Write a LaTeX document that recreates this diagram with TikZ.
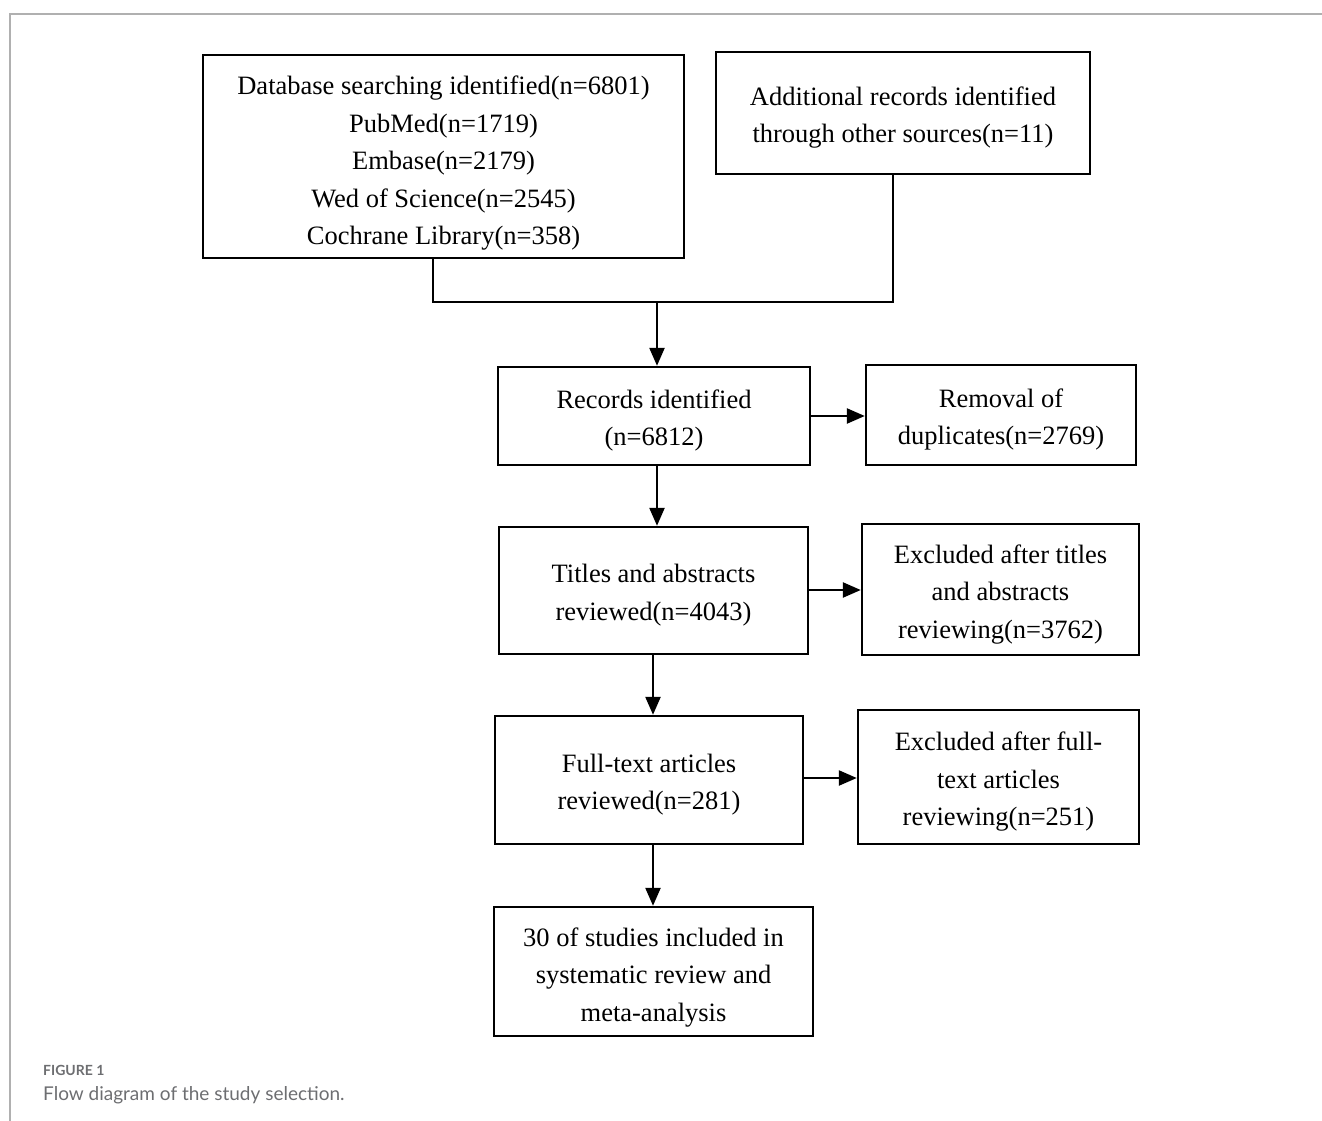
\documentclass[tikz,border=0pt]{standalone}
\usepackage{fontspec}
\setmainfont{Liberation Serif}
\newfontfamily\capfont{Lato}
\usetikzlibrary{arrows.meta}
\definecolor{capgray}{HTML}{6D6E71}
\definecolor{framegray}{HTML}{B0B0B0}
\newcommand\topstrut[1][28pt]{\rule{0pt}{#1}}
\begin{document}
\begin{tikzpicture}[x=1pt,y=-1pt,
  box/.style={draw=black,line width=2.4pt,align=center,inner sep=0pt,
    font=\fontsize{26.5}{37.5}\selectfont},
  arr/.style={line width=2.4pt,-{Triangle[length=18pt,width=15pt]}},
  ln/.style={line width=2.4pt}]
\useasboundingbox (0,0) rectangle (1322,1121);
\draw[framegray,line width=1.5pt] (10,1121) -- (10,14) -- (1322,14);
\node[box,minimum width=481pt,minimum height=203pt] (db) at (443.5,156.5)
  {\topstrut[32pt]Database searching identified(n=6801)\\PubMed(n=1719)\\Embase(n=2179)\\Wed of Science(n=2545)\\Cochrane Library(n=358)};
\node[box,minimum width=374pt,minimum height=122pt] (add) at (903,113)
  {\topstrut Additional records identified\\through other sources(n=11)};
\node[box,minimum width=312pt,minimum height=98pt] (rec) at (654,416)
  {\topstrut Records identified\\(n=6812)};
\node[box,minimum width=270pt,minimum height=100pt] (rem) at (1001,415)
  {\topstrut Removal of\\duplicates(n=2769)};
\node[box,minimum width=309pt,minimum height=127pt] (tit) at (653.5,590.5)
  {\topstrut Titles and abstracts\\reviewed(n=4043)};
\node[box,minimum width=277pt,minimum height=131pt] (ext) at (1000.5,589.5)
  {\topstrut Excluded after titles\\and abstracts\\reviewing(n=3762)};
\node[box,minimum width=308pt,minimum height=128pt] (ful) at (649,780)
  {\topstrut Full-text articles\\reviewed(n=281)};
\node[box,minimum width=281pt,minimum height=134pt] (exf) at (998.5,777)
  {\topstrut Excluded after full-\\text articles\\reviewing(n=251)};
\node[box,minimum width=319pt,minimum height=129pt] (fin) at (653.5,971.5)
  {\topstrut[30pt]30 of studies included in\\systematic review and\\meta-analysis};
\coordinate (dbo) at (433,258);
\coordinate (addo) at (893,174);
\coordinate (jl) at (433,302);
\coordinate (jr) at (893,302);
\coordinate (jm) at (657,302);
\draw[ln] (dbo) -- (jl) -- (jr) -- (addo);
\draw[arr] (jm) -- (jm |- rec.north);
\draw[arr] (rec.east |- 0,416) -- (rem.west |- 0,416);
\draw[arr] (rec.south -| jm) -- (jm |- tit.north);
\draw[arr] (tit.east |- 0,590) -- (ext.west |- 0,590);
\draw[arr] (tit.south -| 653,0) -- (653,0 |- ful.north);
\draw[arr] (ful.east |- 0,778) -- (exf.west |- 0,778);
\draw[arr] (ful.south -| 653,0) -- (653,0 |- fin.north);
\node[anchor=base west,inner sep=0pt,text=capgray,font=\capfont\bfseries\fontsize{14}{17}\selectfont] (figlab) at (43,1075.5) {FIGURE 1};
\node[anchor=base west,inner sep=0pt,text=capgray,font=\capfont\fontsize{19}{23}\selectfont] (figcap) at (43,1100) {Flow diagram of the study selection.};
\end{tikzpicture}
\end{document}
